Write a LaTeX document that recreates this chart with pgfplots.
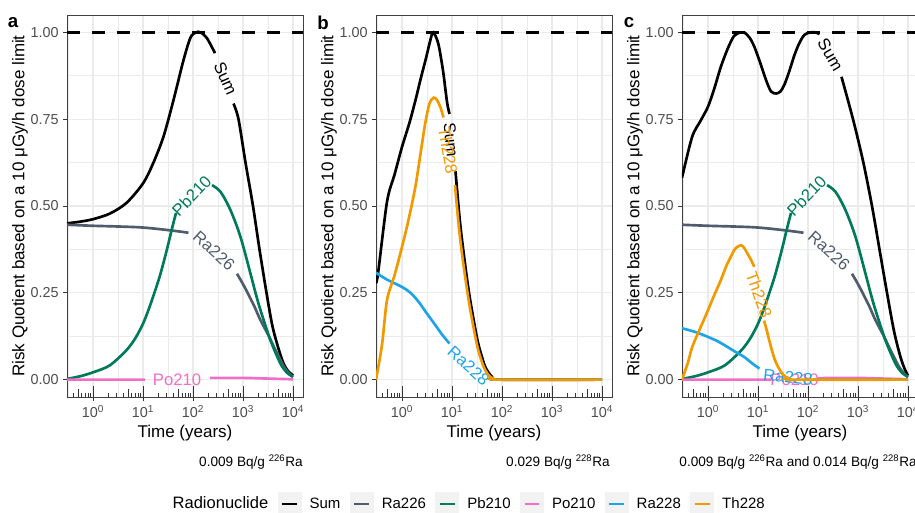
\documentclass[border=0pt]{standalone}
\usepackage{fontspec}
\setmainfont{Liberation Sans}
\usepackage{pgfplots}
\pgfplotsset{compat=1.18}

\definecolor{cRa226}{HTML}{505C6D}
\definecolor{cPb210}{HTML}{007A5A}
\definecolor{cPo210}{HTML}{F26DC5}
\definecolor{cRa228}{HTML}{1DA4E6}
\definecolor{cTh228}{HTML}{F09A00}
\definecolor{gridcol}{HTML}{EBEBEB}
\definecolor{tickcol}{HTML}{4D4D4D}
\definecolor{keybg}{HTML}{F2F2F2}

\newcommand\lblfont{\fontsize{12.5}{14}\selectfont}

% log ticks drawn inside the bottom of each panel
\newcommand\logticks{%
  \pgfplotsinvokeforeach{-0.398,-0.222,-0.155,-0.097,-0.046,
    0.301,0.477,0.602,0.778,0.845,0.903,0.954,
    1.301,1.477,1.602,1.778,1.845,1.903,1.954,
    2.301,2.477,2.602,2.778,2.845,2.903,2.954,
    3.301,3.477,3.602,3.778,3.845,3.903,3.954}{%
    \draw[black!80,line width=0.6pt] (axis cs:##1,-0.05) -- ++(0pt,2.83pt);}
  \pgfplotsinvokeforeach{-0.301,0.699,1.699,2.699,3.699}{%
    \draw[black!80,line width=0.6pt] (axis cs:##1,-0.05) -- ++(0pt,5.67pt);}
  \pgfplotsinvokeforeach{0,1,2,3,4}{%
    \draw[black!80,line width=0.6pt] (axis cs:##1,-0.05) -- ++(0pt,8.5pt);}
}

\tikzset{lbl/.style={font=\lblfont, inner sep=0pt, anchor=center}}

\pgfplotsset{
  rq/.style={
    scale only axis, width=177pt, height=286.5pt, anchor=south west,
    xmin=-0.52, xmax=4.2, ymin=-0.05, ymax=1.05,
    xtick={0,1,2,3,4},
    xticklabels={10\textsuperscript{0},10\textsuperscript{1},10\textsuperscript{2},10\textsuperscript{3},10\textsuperscript{4}},
    minor xtick={-0.5,0.5,1.5,2.5,3.5},
    ytick={0,0.25,0.5,0.75,1},
    yticklabels={0.00,0.25,0.50,0.75,1.00},
    minor ytick={0.125,0.375,0.625,0.875},
    grid=both,
    major grid style={draw=gridcol, line width=1pt},
    minor grid style={draw=gridcol, line width=0.5pt},
    tick align=outside, xtick pos=left, ytick pos=left,
    major tick length=2.75pt, minor tick length=0pt,
    tick style={draw=black!80, line width=0.6pt},
    axis line style={draw=black!75, line width=0.7pt},
    tick label style={font=\fontsize{10.8}{12}\selectfont, text=tickcol},
    xlabel={Time (years)},
    ylabel={Risk Quotient based on a 10 μGy/h dose limit},
    label style={font=\fontsize{12.75}{14}\selectfont},
    xlabel style={at={(axis description cs:0.5,-0.094)}, anchor=center},
    ylabel style={at={(axis description cs:-0.199,0.5)}, anchor=center},
    unbounded coords=jump,
    every axis plot/.append style={line width=2pt, smooth, tension=0.5},
  },
  hline/.style={black, line width=2.6pt, dash pattern=on 9.75pt off 9pt, sharp plot, forget plot},
}

% Ra226 and Pb210 are the same in panels a and c
\pgfplotstableread{
t     v
-0.52 0.446
0     0.443
0.5   0.441
1.0   0.438
1.54  0.43
1.91  0.423
2.42  nan
2.88  0.305
3.0   0.275
3.11  0.245
3.23  0.21
3.35  0.171
3.5   0.13
3.62  0.094
3.72  0.065
3.82  0.037
3.92  0.018
4     0.008
}\raTwoTwoSix
\pgfplotstableread{
t     v
-0.52 0.002
-0.25 0.01
0     0.021
0.335 0.041
0.67  0.085
0.85  0.12
1.0   0.161
1.1   0.197
1.2   0.238
1.34  0.3
1.47  0.37
1.58  0.435
1.66  0.48
2.0   nan
2.38  0.56
2.55  0.541
2.75  0.488
2.95  0.411
3.15  0.305
3.25  0.25
3.35  0.2
3.55  0.113
3.75  0.046
3.88  0.02
4     0.008
}\pbTwoOneZero

\begin{document}
\begin{tikzpicture}

% ---------------- panel a ----------------
\begin{axis}[rq, at={(50.25pt,-297.75pt)}]
\logticks
\addplot[black] coordinates {(-0.52,0.45) (-0.25,0.455) (0,0.462) (0.335,0.478) (0.67,0.509) (1.0,0.565) (1.2,0.622) (1.41,0.70) (1.61,0.805) (1.81,0.92) (1.95,0.985) (2.06,1.0) (2.15,1.0) (2.28,0.983) (2.44,0.94) (2.62,nan) (2.81,0.795) (2.91,0.75) (3.05,0.625) (3.2,0.5) (3.33,0.375) (3.47,0.25) (3.58,0.16) (3.68,0.104) (3.8,0.05) (3.9,0.025) (4,0.012)};
\node[lbl, text=black, rotate=-66] at (axis cs:2.65,0.867) {Sum};
\addplot[cRa226] table[x=t, y=v] {\raTwoTwoSix};
\node[lbl, text=cRa226, rotate=-42] at (axis cs:2.42,0.371) {Ra226};
\addplot[cPb210] table[x=t, y=v] {\pbTwoOneZero};
\node[lbl, text=cPb210, rotate=46] at (axis cs:1.97,0.53) {Pb210};
\addplot[cPo210] coordinates {(-0.52,0) (0.5,0) (1.04,0) (1.7,nan) (2.34,0.005) (3,0.005) (3.5,0.003) (4,0.001)};
\node[lbl, text=cPo210] at (axis cs:1.68,0) {Po210};
\addplot[hline] coordinates {(-0.52,1) (4.2,1)};
\end{axis}

% ---------------- panel b ----------------
\begin{axis}[rq, at={(282pt,-297.75pt)}]
\logticks
\addplot[black] coordinates {(-0.52,0.28) (-0.48,0.305) (-0.3,0.512) (-0.15,0.59) (0,0.67) (0.15,0.74) (0.27,0.805) (0.38,0.87) (0.47,0.92) (0.6,0.995) (0.65,0.995) (0.73,0.965) (0.82,0.89) (0.9,0.8) (0.95,0.765) (1.0,nan) (1.07,0.6) (1.17,0.44) (1.33,0.26) (1.5,0.12) (1.6,0.065) (1.67,0.035) (1.8,0.008) (1.95,0) (4,0)};
\node[lbl, text=black, rotate=-84] at (axis cs:0.98,0.69) {Sum};
\addplot[cRa228] coordinates {(-0.52,0.308) (-0.3,0.288) (0,0.267) (0.17,0.25) (0.333,0.224) (0.5,0.19) (0.667,0.157) (0.8,0.13) (0.95,0.104) (1.3,nan) (1.75,0) (4,0)};
\node[lbl, text=cRa228, rotate=-42] at (axis cs:1.33,0.04) {Ra228};
\addplot[cTh228] coordinates {(-0.52,0) (-0.4,0.1) (-0.3,0.229) (-0.15,0.3) (0,0.382) (0.13,0.46) (0.267,0.555) (0.38,0.66) (0.467,0.74) (0.55,0.795) (0.633,0.812) (0.7,0.805) (0.767,0.785) (0.83,0.755) (0.9,nan) (1.06,0.56) (1.167,0.4) (1.333,0.229) (1.5,0.1) (1.6,0.05) (1.667,0.027) (1.75,0.01) (1.833,0.003) (1.95,0) (4,0)};
\node[lbl, text=cTh228, rotate=-80] at (axis cs:0.92,0.66) {Th228};
\addplot[hline] coordinates {(-0.52,1) (4.2,1)};
\end{axis}

% ---------------- panel c ----------------
\begin{axis}[rq, at={(511.5pt,-297.75pt)},
  legend columns=7,
  legend cell align=left,
  legend style={at={(axis description cs:-0.915,-0.28)}, anchor=center,
    draw=none, fill=none, font=\fontsize{11.25}{13}\selectfont,
    /tikz/every odd column/.append style={column sep=4pt},
    /tikz/every even column/.append style={column sep=5pt}},
  legend image code/.code={%
    \fill[keybg] (0pt,-8pt) rectangle (16pt,8pt);
    \draw[#1,line width=2pt] (2.5pt,0pt) -- (13.5pt,0pt);},
]
\logticks
\addlegendimage{empty legend}
\addlegendentry{\fontsize{12.4}{14}\selectfont Radionuclide}
\addplot[black] coordinates {(-0.52,0.58) (-0.5,0.594) (-0.315,0.7) (-0.15,0.745) (0,0.786) (0.13,0.84) (0.255,0.9) (0.4,0.955) (0.523,0.99) (0.65,1.0) (0.725,1.0) (0.83,0.985) (0.926,0.959) (1.05,0.91) (1.16,0.863) (1.26,0.83) (1.362,0.824) (1.45,0.83) (1.53,0.85) (1.63,0.89) (1.73,0.935) (1.83,0.97) (1.93,0.993) (2.05,1.0) (2.15,1.0) (2.23,0.995) (2.45,nan) (2.67,0.872) (2.9,0.75) (3.1,0.63) (3.28,0.5) (3.43,0.375) (3.58,0.25) (3.72,0.14) (3.85,0.065) (3.95,0.025) (4,0.012)};
\addlegendentry{Sum}
\node[lbl, text=black, rotate=-60] at (axis cs:2.45,0.935) {Sum};
\addplot[cRa226] table[x=t, y=v] {\raTwoTwoSix};
\addlegendentry{Ra226}
\node[lbl, text=cRa226, rotate=-42] at (axis cs:2.42,0.371) {Ra226};
\addplot[cPb210] table[x=t, y=v] {\pbTwoOneZero};
\addlegendentry{Pb210}
\node[lbl, text=cPb210, rotate=46] at (axis cs:1.97,0.53) {Pb210};
\addplot[cPo210] coordinates {(-0.52,0) (0.5,0) (1.27,0) (1.75,nan) (2.2,0.004) (2.5,0.005) (3,0.005) (3.5,0.003) (4,0.001)};
\addlegendentry{Po210}
\node[lbl, text=cPo210] at (axis cs:1.73,0) {Po210};
\addplot[cRa228] coordinates {(-0.52,0.148) (-0.25,0.137) (0,0.123) (0.2,0.11) (0.39,0.094) (0.55,0.08) (0.725,0.065) (0.9,0.045) (1.03,0.032) (1.6,nan) (2.1,0) (4,0)};
\addlegendentry{Ra228}
\node[lbl, text=cRa228, rotate=-6] at (axis cs:1.6,0.006) {Ra228};
\addplot[cTh228] coordinates {(-0.52,0) (-0.4,0.05) (-0.315,0.094) (-0.15,0.15) (0,0.2) (0.13,0.245) (0.255,0.286) (0.36,0.325) (0.456,0.354) (0.55,0.378) (0.658,0.387) (0.72,0.38) (0.79,0.363) (0.86,0.345) (0.926,0.325) (1.02,nan) (1.12,0.17) (1.16,0.15) (1.26,0.094) (1.33,0.06) (1.4,0.037) (1.5,0.015) (1.6,0.004) (1.75,0) (4,0)};
\addlegendentry{Th228}
\node[lbl, text=cTh228, rotate=-70] at (axis cs:1.02,0.245) {Th228};
\addplot[hline] coordinates {(-0.52,1) (4.2,1)};
\end{axis}

% tags and captions (pixel units, y downward)
\begin{scope}[x=0.75pt, y=-0.75pt]
\node[font=\bfseries\fontsize{14}{16}\selectfont] at (13,23) {a};
\node[font=\bfseries\fontsize{14}{16}\selectfont] at (323,23) {b};
\node[font=\bfseries\fontsize{14}{16}\selectfont] at (629,23) {c};
\node[anchor=east, inner sep=0pt, font=\fontsize{10.2}{12}\selectfont] at (303,462) {0.009 Bq/g \textsuperscript{226}Ra};
\node[anchor=east, inner sep=0pt, font=\fontsize{10.2}{12}\selectfont] at (610,462) {0.029 Bq/g \textsuperscript{228}Ra};
\node[anchor=east, inner sep=0pt, font=\fontsize{10.2}{12}\selectfont] at (917,462) {0.009 Bq/g \textsuperscript{226}Ra and 0.014 Bq/g \textsuperscript{228}Ra};
\end{scope}

\pgfresetboundingbox
\useasboundingbox (0pt,0pt) rectangle (686.25pt,-384.75pt);
\end{tikzpicture}
\end{document}
